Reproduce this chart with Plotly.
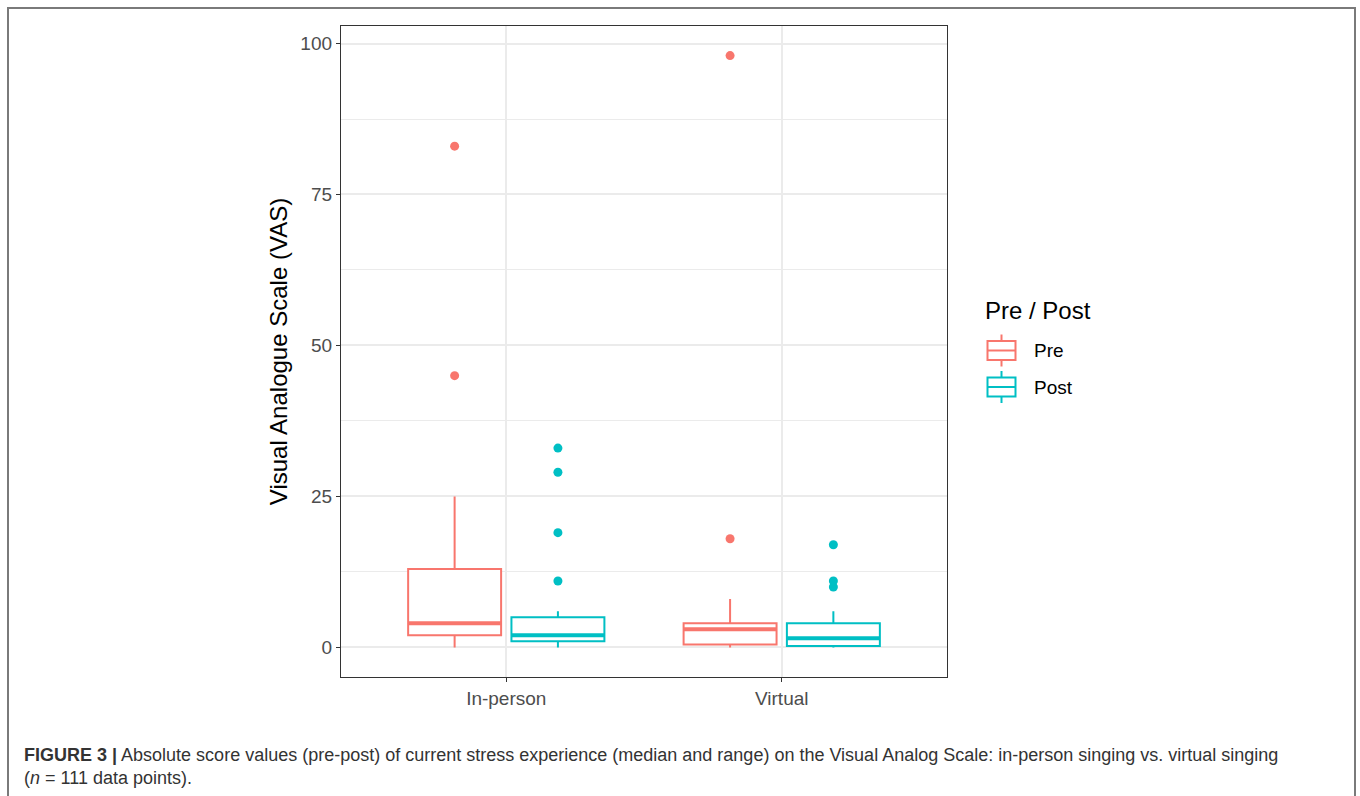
import plotly.graph_objects as go

# ---------------- data ----------------
categories = ["In-person", "Virtual"]
groups = ["Pre", "Post"]

pre_q1 = [2, 0.5]
pre_median = [4, 3]
pre_q3 = [13, 4]
pre_low = [0, 0]
pre_high = [25, 8]
pre_outliers = [[45, 83], [18, 98]]

post_q1 = [1, 0.25]
post_median = [2, 1.5]
post_q3 = [5, 4]
post_low = [0, 0]
post_high = [6, 6]
post_outliers = [[11, 19, 29, 33], [10, 11, 17]]

y_ticks = [0, 25, 50, 75, 100]

# ---------------- styling ----------------
COL_PRE = "#F8766D"
COL_POST = "#00BFC4"
DODGE = 0.1875
BOXW = 0.3375
W, H = 1360, 796
PL, PR, PT, PB = 341, 947, 26, 677  # panel pixel box


def px2paper_x(px):
    return (px - PL) / (PR - PL)


def px2paper_y(py):
    return (PB - py) / (PB - PT)


fig = go.Figure()

cat_pos = [i + 1 for i in range(len(categories))]

series = [
    ("Pre", COL_PRE, -DODGE, pre_q1, pre_median, pre_q3, pre_low, pre_high, pre_outliers),
    ("Post", COL_POST, DODGE, post_q1, post_median, post_q3, post_low, post_high, post_outliers),
]

for name, col, off, q1, med, q3, lo, hi, outs in series:
    xs = [c + off for c in cat_pos]
    fig.add_trace(go.Box(
        name=name, x=xs, q1=q1, median=med, q3=q3,
        lowerfence=lo, upperfence=hi,
        width=BOXW, whiskerwidth=0,
        line=dict(color=col, width=2),
        fillcolor="white", boxpoints=False,
        showlegend=False, hoverinfo="skip",
    ))
    # thicker median lines (ggplot fatten)
    for x, m in zip(xs, med):
        fig.add_trace(go.Scatter(
            x=[x - BOXW / 2, x + BOXW / 2], y=[m, m], mode="lines",
            line=dict(color=col, width=4), showlegend=False, hoverinfo="skip",
        ))
    ox, oy = [], []
    for x, o in zip(xs, outs):
        for v in o:
            ox.append(x)
            oy.append(v)
    fig.add_trace(go.Scatter(
        x=ox, y=oy, mode="markers",
        marker=dict(color=col, size=9, line=dict(width=0)),
        showlegend=False, hoverinfo="skip",
    ))

fig.update_layout(
    width=W, height=H,
    margin=dict(l=PL, r=W - PR, t=PT, b=H - PB, pad=0),
    paper_bgcolor="white", plot_bgcolor="white",
    boxmode="overlay",
    showlegend=False,
    font=dict(family="Liberation Sans, Arial, sans-serif", color="#4D4D4D"),
    xaxis=dict(
        range=[0.4, 2.6], tickvals=cat_pos, ticktext=categories,
        showgrid=True, gridcolor="#EBEBEB", gridwidth=2,
        zeroline=False,
        showline=True, linecolor="#333333", linewidth=1.3, mirror=True,
        ticks="outside", ticklen=4, tickcolor="#333333", tickwidth=1.3,
        tickfont=dict(size=19, color="#4D4D4D"),
    ),
    yaxis=dict(
        range=[-4.9, 102.9], tickvals=y_ticks,
        showgrid=True, gridcolor="#EBEBEB", gridwidth=2,
        minor=dict(dtick=12.5, tick0=12.5, showgrid=True, gridcolor="#EBEBEB", gridwidth=1, ticks=""),
        zeroline=False,
        showline=True, linecolor="#333333", linewidth=1.3, mirror=True,
        ticks="outside", ticklen=4, tickcolor="#333333", tickwidth=1.3,
        tickfont=dict(size=19, color="#4D4D4D"),
        title=dict(text="Visual Analogue Scale (VAS)", font=dict(size=24, color="black"), standoff=5),
    ),
)

# ---------------- legend (ggplot-style keys) ----------------
fig.add_annotation(
    xref="paper", yref="paper", x=px2paper_x(983), y=px2paper_y(310),
    xanchor="left", yanchor="middle", showarrow=False,
    text="Pre / Post", font=dict(size=24, color="black"),
)
key_rows = [("Pre", COL_PRE, 350.5), ("Post", COL_POST, 387)]
KX0, KX1 = 987.5, 1015.5
KXC = (KX0 + KX1) / 2
for name, col, yc in key_rows:
    fig.add_shape(type="rect", xref="paper", yref="paper",
                  x0=px2paper_x(KX0), x1=px2paper_x(KX1),
                  y0=px2paper_y(yc + 9.5), y1=px2paper_y(yc - 9.5),
                  line=dict(color=col, width=2), fillcolor="white")
    fig.add_shape(type="line", xref="paper", yref="paper",
                  x0=px2paper_x(KX0), x1=px2paper_x(KX1),
                  y0=px2paper_y(yc), y1=px2paper_y(yc),
                  line=dict(color=col, width=2))
    fig.add_shape(type="line", xref="paper", yref="paper",
                  x0=px2paper_x(KXC), x1=px2paper_x(KXC),
                  y0=px2paper_y(yc - 9.5), y1=px2paper_y(yc - 16),
                  line=dict(color=col, width=2))
    fig.add_shape(type="line", xref="paper", yref="paper",
                  x0=px2paper_x(KXC), x1=px2paper_x(KXC),
                  y0=px2paper_y(yc + 9.5), y1=px2paper_y(yc + 16),
                  line=dict(color=col, width=2))
    fig.add_annotation(
        xref="paper", yref="paper", x=px2paper_x(1032), y=px2paper_y(yc),
        xanchor="left", yanchor="middle", showarrow=False,
        text=name, font=dict(size=19, color="black"),
    )

# outer figure frame (open at bottom)
fig.add_shape(type="rect", xref="paper", yref="paper",
              x0=px2paper_x(8), x1=px2paper_x(1355),
              y0=px2paper_y(830), y1=px2paper_y(8),
              line=dict(color="#7A7A7A", width=2), fillcolor="rgba(0,0,0,0)", layer="below")

cap_font = dict(family="Liberation Sans, Arial, sans-serif", size=18, color="#333333")
fig.add_annotation(
    xref="paper", yref="paper", x=px2paper_x(22), y=px2paper_y(755),
    xanchor="left", yanchor="middle", showarrow=False, font=cap_font,
    text="<b>FIGURE 3 |</b> Absolute score values (pre-post) of current stress experience (median and range) on the Visual Analog Scale: in-person singing vs. virtual singing",
)
fig.add_annotation(
    xref="paper", yref="paper", x=px2paper_x(22), y=px2paper_y(778),
    xanchor="left", yanchor="middle", showarrow=False, font=cap_font,
    text="(<i>n</i> = 111 data points).",
)

fig.write_html(
    "out.html",
    config={"displayModeBar": False},
    post_script="document.body.style.margin='0';document.body.style.overflow='hidden';",
)
